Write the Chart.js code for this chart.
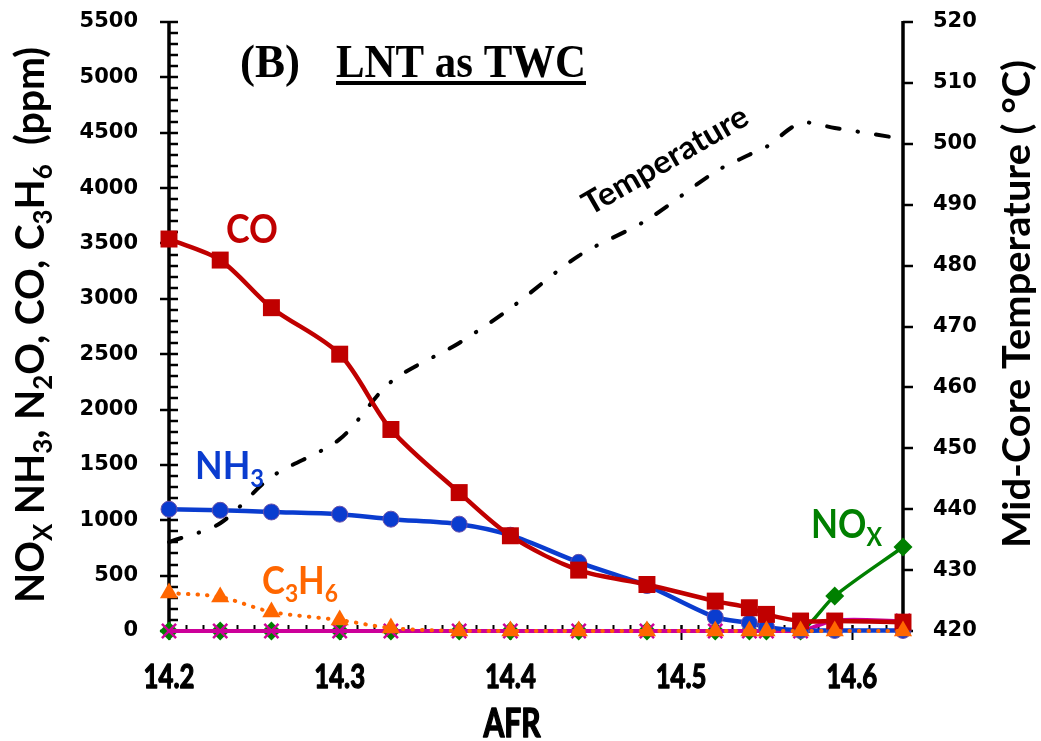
<!DOCTYPE html>
<html>
<head>
<meta charset="utf-8">
<script src="https://cdn.jsdelivr.net/npm/chart.js@4.4.1/dist/chart.umd.min.js"></script>
<style>
  html, body { margin: 0; padding: 0; background: #fff; }
  #wrap { width: 1041px; height: 741px; position: relative; }
</style>
</head>
<body>
<div id="wrap"><canvas id="chart"></canvas></div>
<script>
// AFR (x axis)
const afr = [14.2, 14.23, 14.26, 14.3, 14.33, 14.37, 14.4, 14.44, 14.48, 14.52, 14.54, 14.55, 14.57, 14.59, 14.63];
// concentrations, ppm (left axis)
const co   = [3540, 3350, 2920, 2500, 1820, 1250, 860, 550, 420, 270, 210, 150, 90, 90, 80];
const nh3  = [1100, 1090, 1075, 1055, 1010, 965, 865, 620, 410, 125, 72, 35, 5, 5, 5];
const c3h6 = [343, 307, 172, 99, 27, 0, 0, 0, 0, 0, 0, 0, 0, 0, 0];
const nox  = [0, 0, 0, 0, 0, 0, 0, 0, 0, 0, 0, 0, 0, 316, 759];
const n2o  = [0, 0, 0, 0, 0, 0, 0, 0, 0, 0, 0, 0, 0, 95, 90];
// mid-core temperature, °C (right axis)
const temperature = [434.6, 437.7, 445.3, 451.5, 460.9, 467.3, 473.0, 481.6, 487.5, 495.4, 498.2, 499.5, 503.4, 502.6, 500.8];

// tick labels
const xTicks = [14.2, 14.3, 14.4, 14.5, 14.6];
const yTicks = [0, 500, 1000, 1500, 2000, 2500, 3000, 3500, 4000, 4500, 5000, 5500];
const tTicks = [420, 430, 440, 450, 460, 470, 480, 490, 500, 510, 520];

const SANS = 'Lato, "Open Sans", sans-serif';

function pts(arr) {
    return afr.map((x, i) => ({ x: x, y: arr[i] }));
}

// текст с нижними индексами, с подгонкой по ширине
function richText(ctx, parts, o) {
    const fam = o.family || SANS;
    const subSize = o.size * 0.66;
    ctx.save();
    ctx.translate(o.x, o.y);
    if (o.rot) ctx.rotate(o.rot);
    const widths = parts.map(([t, sub]) => {
        ctx.font = 'bold ' + (sub ? subSize : o.size) + 'px ' + fam;
        return ctx.measureText(t).width;
    });
    const w = widths.reduce((a, b) => a + b, 0);
    const sx = o.width ? o.width / w : (o.sx || 1);
    ctx.scale(sx, 1);
    let cx = o.align === 'center' ? -w / 2 : (o.align === 'right' ? -w : 0);
    ctx.fillStyle = o.color || '#000';
    ctx.strokeStyle = o.color || '#000';
    ctx.lineWidth = o.heavy || 0;
    ctx.lineJoin = 'round';
    ctx.textBaseline = 'alphabetic';
    ctx.textAlign = 'left';
    parts.forEach(([t, sub], i) => {
        ctx.font = 'bold ' + (sub ? subSize : o.size) + 'px ' + fam;
        const dy = sub ? o.size * 0.2 : 0;
        ctx.fillText(t, cx, dy);
        if (o.heavy) ctx.strokeText(t, cx, dy);
        cx += widths[i];
    });
    if (o.underline) {
        ctx.fillRect(cx - w, 4, w, 4);
    }
    ctx.restore();
}

const framePlugin = {
    id: 'frame',
    beforeDatasetsDraw(chart) {
        const ctx = chart.ctx;
        const a = chart.chartArea;
        const sx = chart.scales.x, sy = chart.scales.y, st = chart.scales.y1;
        ctx.save();
        ctx.strokeStyle = '#000';
        ctx.lineCap = 'butt';

        // x axis
        ctx.lineWidth = 2;
        ctx.beginPath();
        ctx.moveTo(a.left, a.bottom); ctx.lineTo(a.right, a.bottom);
        ctx.stroke();
        for (let v = 14.2; v <= 14.631; v += 0.01) {
            const px = Math.round(sx.getPixelForValue(v)) + 0.5;
            ctx.beginPath();
            ctx.moveTo(px, a.bottom - 6); ctx.lineTo(px, a.bottom);
            ctx.stroke();
        }
        xTicks.forEach(v => {
            const px = Math.round(sx.getPixelForValue(v)) + 0.5;
            ctx.beginPath();
            ctx.moveTo(px, a.bottom - 6); ctx.lineTo(px, a.bottom + 9);
            ctx.stroke();
        });

        // left axis
        ctx.lineWidth = 2.5;
        for (let v = 0; v <= 5500; v += 100) {
            const py = Math.round(sy.getPixelForValue(v));
            const major = v % 500 === 0;
            ctx.beginPath();
            ctx.moveTo(major ? a.left - 9 : a.left, py); ctx.lineTo(a.left + 9, py);
            ctx.stroke();
        }
        ctx.lineWidth = 3.5;
        ctx.beginPath();
        ctx.moveTo(a.left, a.top - 1); ctx.lineTo(a.left, a.bottom + 1);
        ctx.stroke();

        // right axis
        ctx.lineWidth = 2.5;
        tTicks.forEach(v => {
            const py = Math.round(st.getPixelForValue(v));
            ctx.beginPath();
            ctx.moveTo(a.right, py); ctx.lineTo(a.right + 10, py);
            ctx.stroke();
        });
        ctx.lineWidth = 3.5;
        ctx.beginPath();
        ctx.moveTo(a.right, a.top - 1); ctx.lineTo(a.right, a.bottom + 1);
        ctx.stroke();
        ctx.restore();
    },
    afterDraw(chart) {
        const ctx = chart.ctx;
        const sx = chart.scales.x, sy = chart.scales.y, st = chart.scales.y1;
        ctx.save();
        ctx.fillStyle = '#000';
        ctx.font = 'bold 21px "DejaVu Sans"';
        ctx.textBaseline = 'middle';
        ctx.textAlign = 'right';
        yTicks.forEach(v => ctx.fillText(String(v), 138, sy.getPixelForValue(v)));
        ctx.textAlign = 'left';
        tTicks.forEach(v => ctx.fillText(String(v), 933, st.getPixelForValue(v)));
        ctx.restore();

        xTicks.forEach(v => richText(ctx, [[v.toFixed(1), 0]], {
            x: sx.getPixelForValue(v), y: 688, size: 33, sx: 0.78, align: 'center', heavy: 1.3
        }));
        richText(ctx, [['AFR', 0]], { x: 512, y: 737, size: 40, width: 57, align: 'center', heavy: 1.6 });

        // axis titles
        richText(ctx, [['NO', 0], ['X', 1], [' NH', 0], ['3', 1], [', N', 0], ['2', 1],
            ['O, CO, C', 0], ['3', 1], ['H', 0], ['6', 1], ['  (ppm)', 0]],
            { x: 44, y: 325, size: 40, width: 556, align: 'center', rot: -Math.PI / 2 });
        richText(ctx, [['Mid-Core Temperature ( °C)', 0]],
            { x: 1030, y: 304, size: 38, width: 488, align: 'center', rot: -Math.PI / 2 });

        // title
        richText(ctx, [['(B)', 0]], { x: 240, y: 77, size: 47, width: 60, family: '"Liberation Serif", serif' });
        richText(ctx, [['LNT as TWC', 0]], { x: 336, y: 77, size: 47, width: 250, family: '"Liberation Serif", serif', underline: true });

        // series labels
        richText(ctx, [['CO', 0]], { x: 226, y: 243, size: 40, width: 52, color: '#C00000' });
        richText(ctx, [['NH', 0], ['3', 1]], { x: 195, y: 479, size: 38, width: 69, color: '#0A3CCF' });
        richText(ctx, [['C', 0], ['3', 1], ['H', 0], ['6', 1]], { x: 262, y: 594, size: 38, width: 76, color: '#FF6600' });
        richText(ctx, [['NO', 0], ['X', 1]], { x: 811, y: 538, size: 40, width: 71, color: '#008000' });
        richText(ctx, [['Temperature', 0]], { x: 590, y: 216, size: 32, width: 186, rot: -30 * Math.PI / 180 });
    }
};

new Chart(document.getElementById('chart'), {
    type: 'line',
    data: {
        datasets: [
            {
                label: 'C3H6', data: pts(c3h6), yAxisID: 'y',
                borderColor: '#FF6600', backgroundColor: '#FF6600',
                borderWidth: 4, borderDash: [0.5, 9], borderCapStyle: 'round',
                pointStyle: 'triangle', pointRadius: 10.5, pointBorderWidth: 0
            },
            {
                label: 'CO', data: pts(co), yAxisID: 'y',
                borderColor: '#C00000', backgroundColor: '#C00000',
                borderWidth: 4.5, pointStyle: 'rect', pointRadius: 12, pointBorderWidth: 0
            },
            {
                label: 'NH3', data: pts(nh3), yAxisID: 'y',
                borderColor: '#0A3CCF', backgroundColor: '#0A3CCF',
                borderWidth: 4.5, pointStyle: 'circle', pointRadius: 8,
                pointBorderColor: '#6A4FA8', pointBorderWidth: 1
            },
            {
                label: 'N2O', data: pts(n2o), yAxisID: 'y',
                borderColor: '#CC0099', backgroundColor: '#CC0099',
                borderWidth: 4, pointStyle: 'crossRot', pointRadius: 10, pointBorderWidth: 2.5
            },
            {
                label: 'NOx', data: pts(nox), yAxisID: 'y',
                borderColor: '#008000', backgroundColor: '#008000',
                borderWidth: 3.5, pointStyle: 'rectRot', pointRadius: 9.5, pointBorderWidth: 0
            },
            {
                label: 'Temperature', data: pts(temperature), yAxisID: 'y1',
                borderColor: '#000', borderWidth: 4,
                borderDash: [13, 18, 0.5, 18], borderCapStyle: 'round',
                pointRadius: 0
            }
        ]
    },
    options: {
        responsive: true,
        maintainAspectRatio: false,
        animation: false,
        devicePixelRatio: 1,
        layout: { padding: { top: 22, left: 0, right: 0, bottom: 0 } },
        datasets: { line: { tension: 0.3, clip: false, fill: false } },
        plugins: { legend: { display: false }, tooltip: { enabled: false } },
        scales: {
            x: {
                type: 'linear', min: 14.2, max: 14.63,
                ticks: { display: false }, grid: { display: false }, border: { display: false },
                afterFit: s => { s.height = 110; }
            },
            y: {
                position: 'left', min: 0, max: 5500,
                ticks: { display: false }, grid: { display: false }, border: { display: false },
                afterFit: s => { s.width = 169; }
            },
            y1: {
                position: 'right', min: 420, max: 520,
                ticks: { display: false }, grid: { display: false }, border: { display: false },
                afterFit: s => { s.width = 138; }
            }
        }
    },
    plugins: [framePlugin]
});
</script>
</body>
</html>
